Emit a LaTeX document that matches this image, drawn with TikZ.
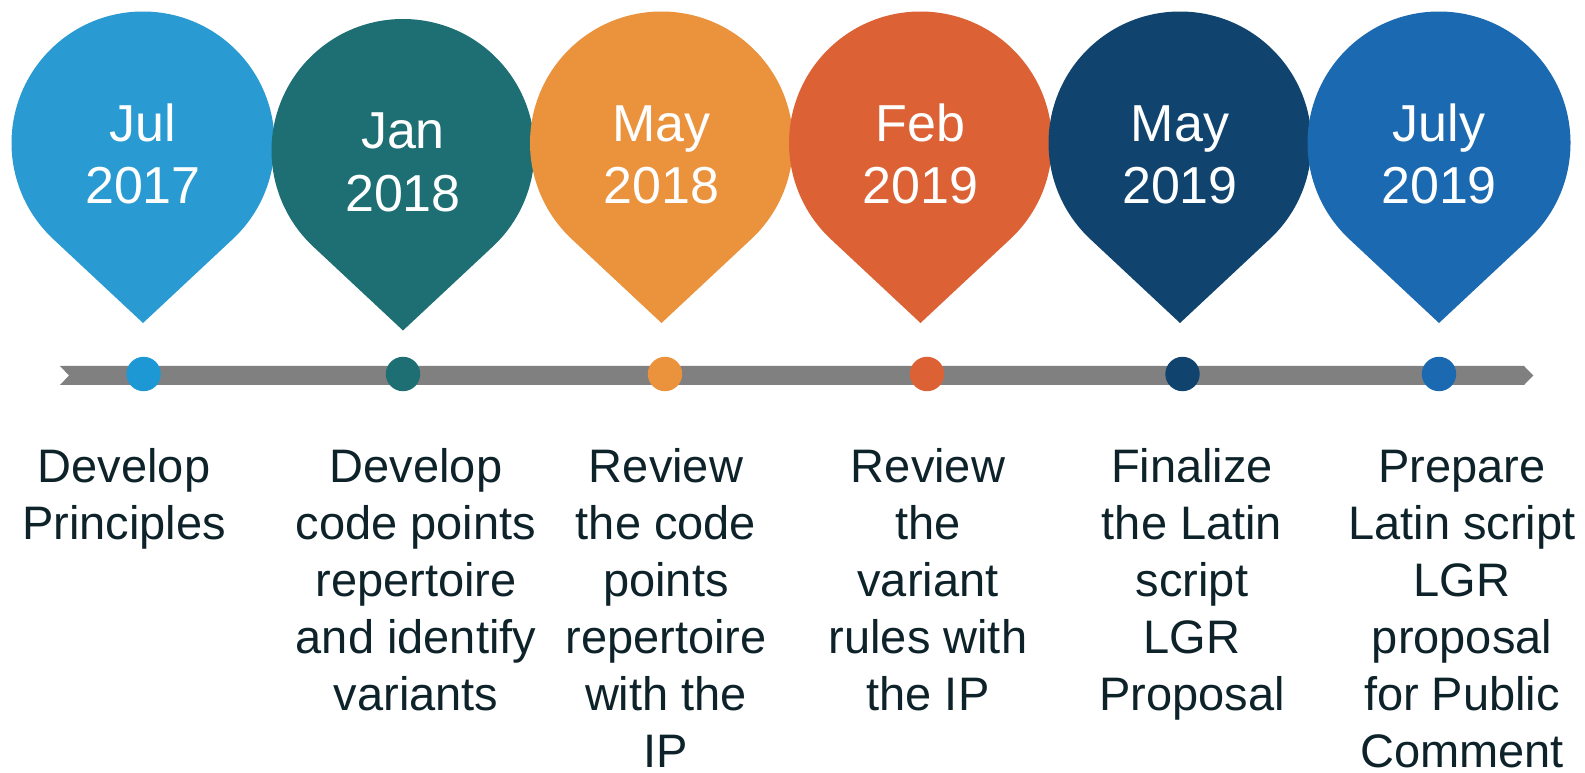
\documentclass[tikz,border=0pt]{standalone}
\usepackage{fontspec}
\setmainfont{Liberation Sans}
\definecolor{pinA}{RGB}{41,155,210}
\definecolor{dotA}{RGB}{29,152,212}
\definecolor{pinB}{RGB}{29,111,115}
\definecolor{pinC}{RGB}{235,146,61}
\definecolor{pinD}{RGB}{220,98,54}
\definecolor{pinE}{RGB}{16,68,110}
\definecolor{pinF}{RGB}{27,105,176}
\definecolor{barg}{RGB}{128,128,128}
\definecolor{txt}{RGB}{14,34,42}
\begin{document}
\begin{tikzpicture}[x=1pt,y=1pt,
  dotnode/.style={circle,minimum size=34.4pt,inner sep=0pt,draw=none},
  datetext/.style={text=white,align=center,inner sep=0pt,anchor=base,
    font=\fontsize{52}{62.5}\selectfont},
  desctext/.style={text=txt,align=center,inner sep=0pt,anchor=base,
    font=\fontsize{47}{57}\selectfont}]
\fill[white] (0,0) rectangle (1585,772);
\useasboundingbox (0,0) rectangle (1585,772);
% timeline bar
\fill[barg] (60,406) -- (1524,406) -- (1533.3,396.5) -- (1524,387) -- (60,387) -- (69,396.5) -- cycle;
% pins
\foreach \cx/\cy/\ty/\col in {143/629/449/pinA, 403/621.5/441.5/pinB, 661.5/629/449/pinC,
    920.5/629/449/pinD, 1180/629/449/pinE, 1439/629/449/pinF}{
  \fill[\col] (\cx,\cy) ++(-46.93:131.5pt) arc[start angle=-46.93,end angle=226.93,radius=131.5pt]
     -- (\cx,\ty) -- cycle;
}
% dots
\node[dotnode,fill=dotA] (dot1) at (143.6,398) {};
\node[dotnode,fill=pinB] (dot2) at (403,398) {};
\node[dotnode,fill=pinC] (dot3) at (665,398) {};
\node[dotnode,fill=pinD] (dot4) at (927,398) {};
\node[dotnode,fill=pinE] (dot5) at (1182.5,398) {};
\node[dotnode,fill=pinF] (dot6) at (1439,398) {};
% dates (anchor = baseline of last line)
\node[datetext] (date1) at (143,568) {Jul\\2017};
\node[datetext] (date2) at (403,560.5) {Jan\\2018};
\node[datetext] (date3) at (661.5,568) {May\\2018};
\node[datetext] (date4) at (920.5,568) {Feb\\2019};
\node[datetext] (date5) at (1180,568) {May\\2019};
\node[datetext] (date6) at (1439,568) {July\\2019};
% descriptions (anchor = baseline of last line)
\node[desctext] (desc1) at (124,233) {Develop\\Principles};
\node[desctext] (desc2) at (416,62) {Develop\\code points\\repertoire\\and identify\\variants};
\node[desctext] (desc3) at (666,5) {Review\\the code\\points\\repertoire\\with the\\IP};
\node[desctext] (desc4) at (928,62) {Review\\the\\variant\\rules with\\the IP};
\node[desctext] (desc5) at (1192,62) {Finalize\\the Latin\\script\\LGR\\Proposal};
\node[desctext] (desc6) at (1462,5) {Prepare\\Latin script\\LGR\\proposal\\for Public\\Comment};
\end{tikzpicture}
\end{document}
